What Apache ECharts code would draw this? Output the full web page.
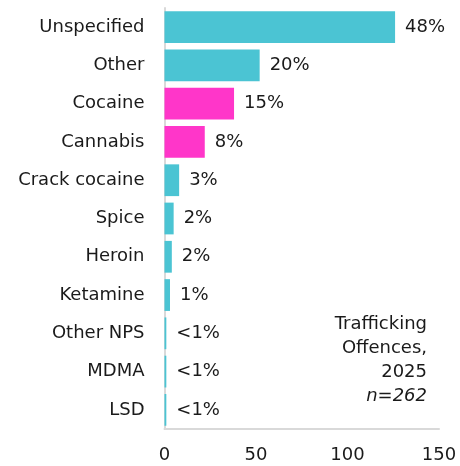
<!DOCTYPE html>
<html>
<head>
<meta charset="utf-8">
<script src="https://cdn.jsdelivr.net/npm/echarts@6/dist/echarts.min.js"></script>
<style>html,body{margin:0;padding:0;background:#fff}#c{width:460px;height:466px}</style>
</head>
<body>
<div id="c"></div>
<script>
const categories = ["Unspecified","Other","Cocaine","Cannabis","Crack cocaine","Spice","Heroin","Ketamine","Other NPS","MDMA","LSD"];
const counts = [126,52,38,22,8,5,4,3,1,1,1];
const pctLabels = ["48%","20%","15%","8%","3%","2%","2%","1%","<1%","<1%","<1%"];
const highlighted = ["Cocaine","Cannabis"];
const xTicks = [0,50,100,150];
const noteLines = ["Trafficking","Offences,","2025","n=262"];

const TEAL = "#4BC4D3", PINK = "#FF36C9";
const FONT = '"DejaVu Sans", Verdana, sans-serif';
const FS = 18;

const chart = echarts.init(document.getElementById('c'), null, {renderer:'canvas'});
chart.setOption({
  animation:false,
  grid:{left:164.5, right:21, top:8, bottom:37, containLabel:false},
  xAxis:{
    type:'value', min:xTicks[0], max:xTicks[xTicks.length-1], interval:50,
    splitLine:{show:false},
    axisLine:{show:true, lineStyle:{color:'#d9d9d9', width:2}},
    axisTick:{show:false},
    axisLabel:{color:'#1a1a1a', fontFamily:FONT, fontSize:FS, margin:17}
  },
  yAxis:{
    type:'category', data:categories, inverse:true,
    axisLine:{show:true, lineStyle:{color:'#d9d9d9', width:2}},
    axisTick:{show:false},
    axisLabel:{color:'#1a1a1a', fontFamily:FONT, fontSize:FS, margin:20}
  },
  series:[{
    type:'bar',
    barCategoryGap:'17%',
    data:counts.map((v,i)=>({value:v, itemStyle:{color: highlighted.includes(categories[i]) ? PINK : TEAL}})),
    label:{
      show:true, position:'right', distance:10,
      color:'#1a1a1a', fontFamily:FONT, fontSize:FS,
      formatter:(p)=>pctLabels[p.dataIndex]
    }
  }],
  graphic: noteLines.map((t,i)=>({
    type:'text',
    x:427, y:324 + i*24,
    style:{
      text:t, align:'right', verticalAlign:'middle',
      fill:'#1a1a1a', fontFamily:FONT, fontSize:FS,
      fontStyle: i===3 ? 'italic' : 'normal'
    }
  }))
});
</script>
</body>
</html>
